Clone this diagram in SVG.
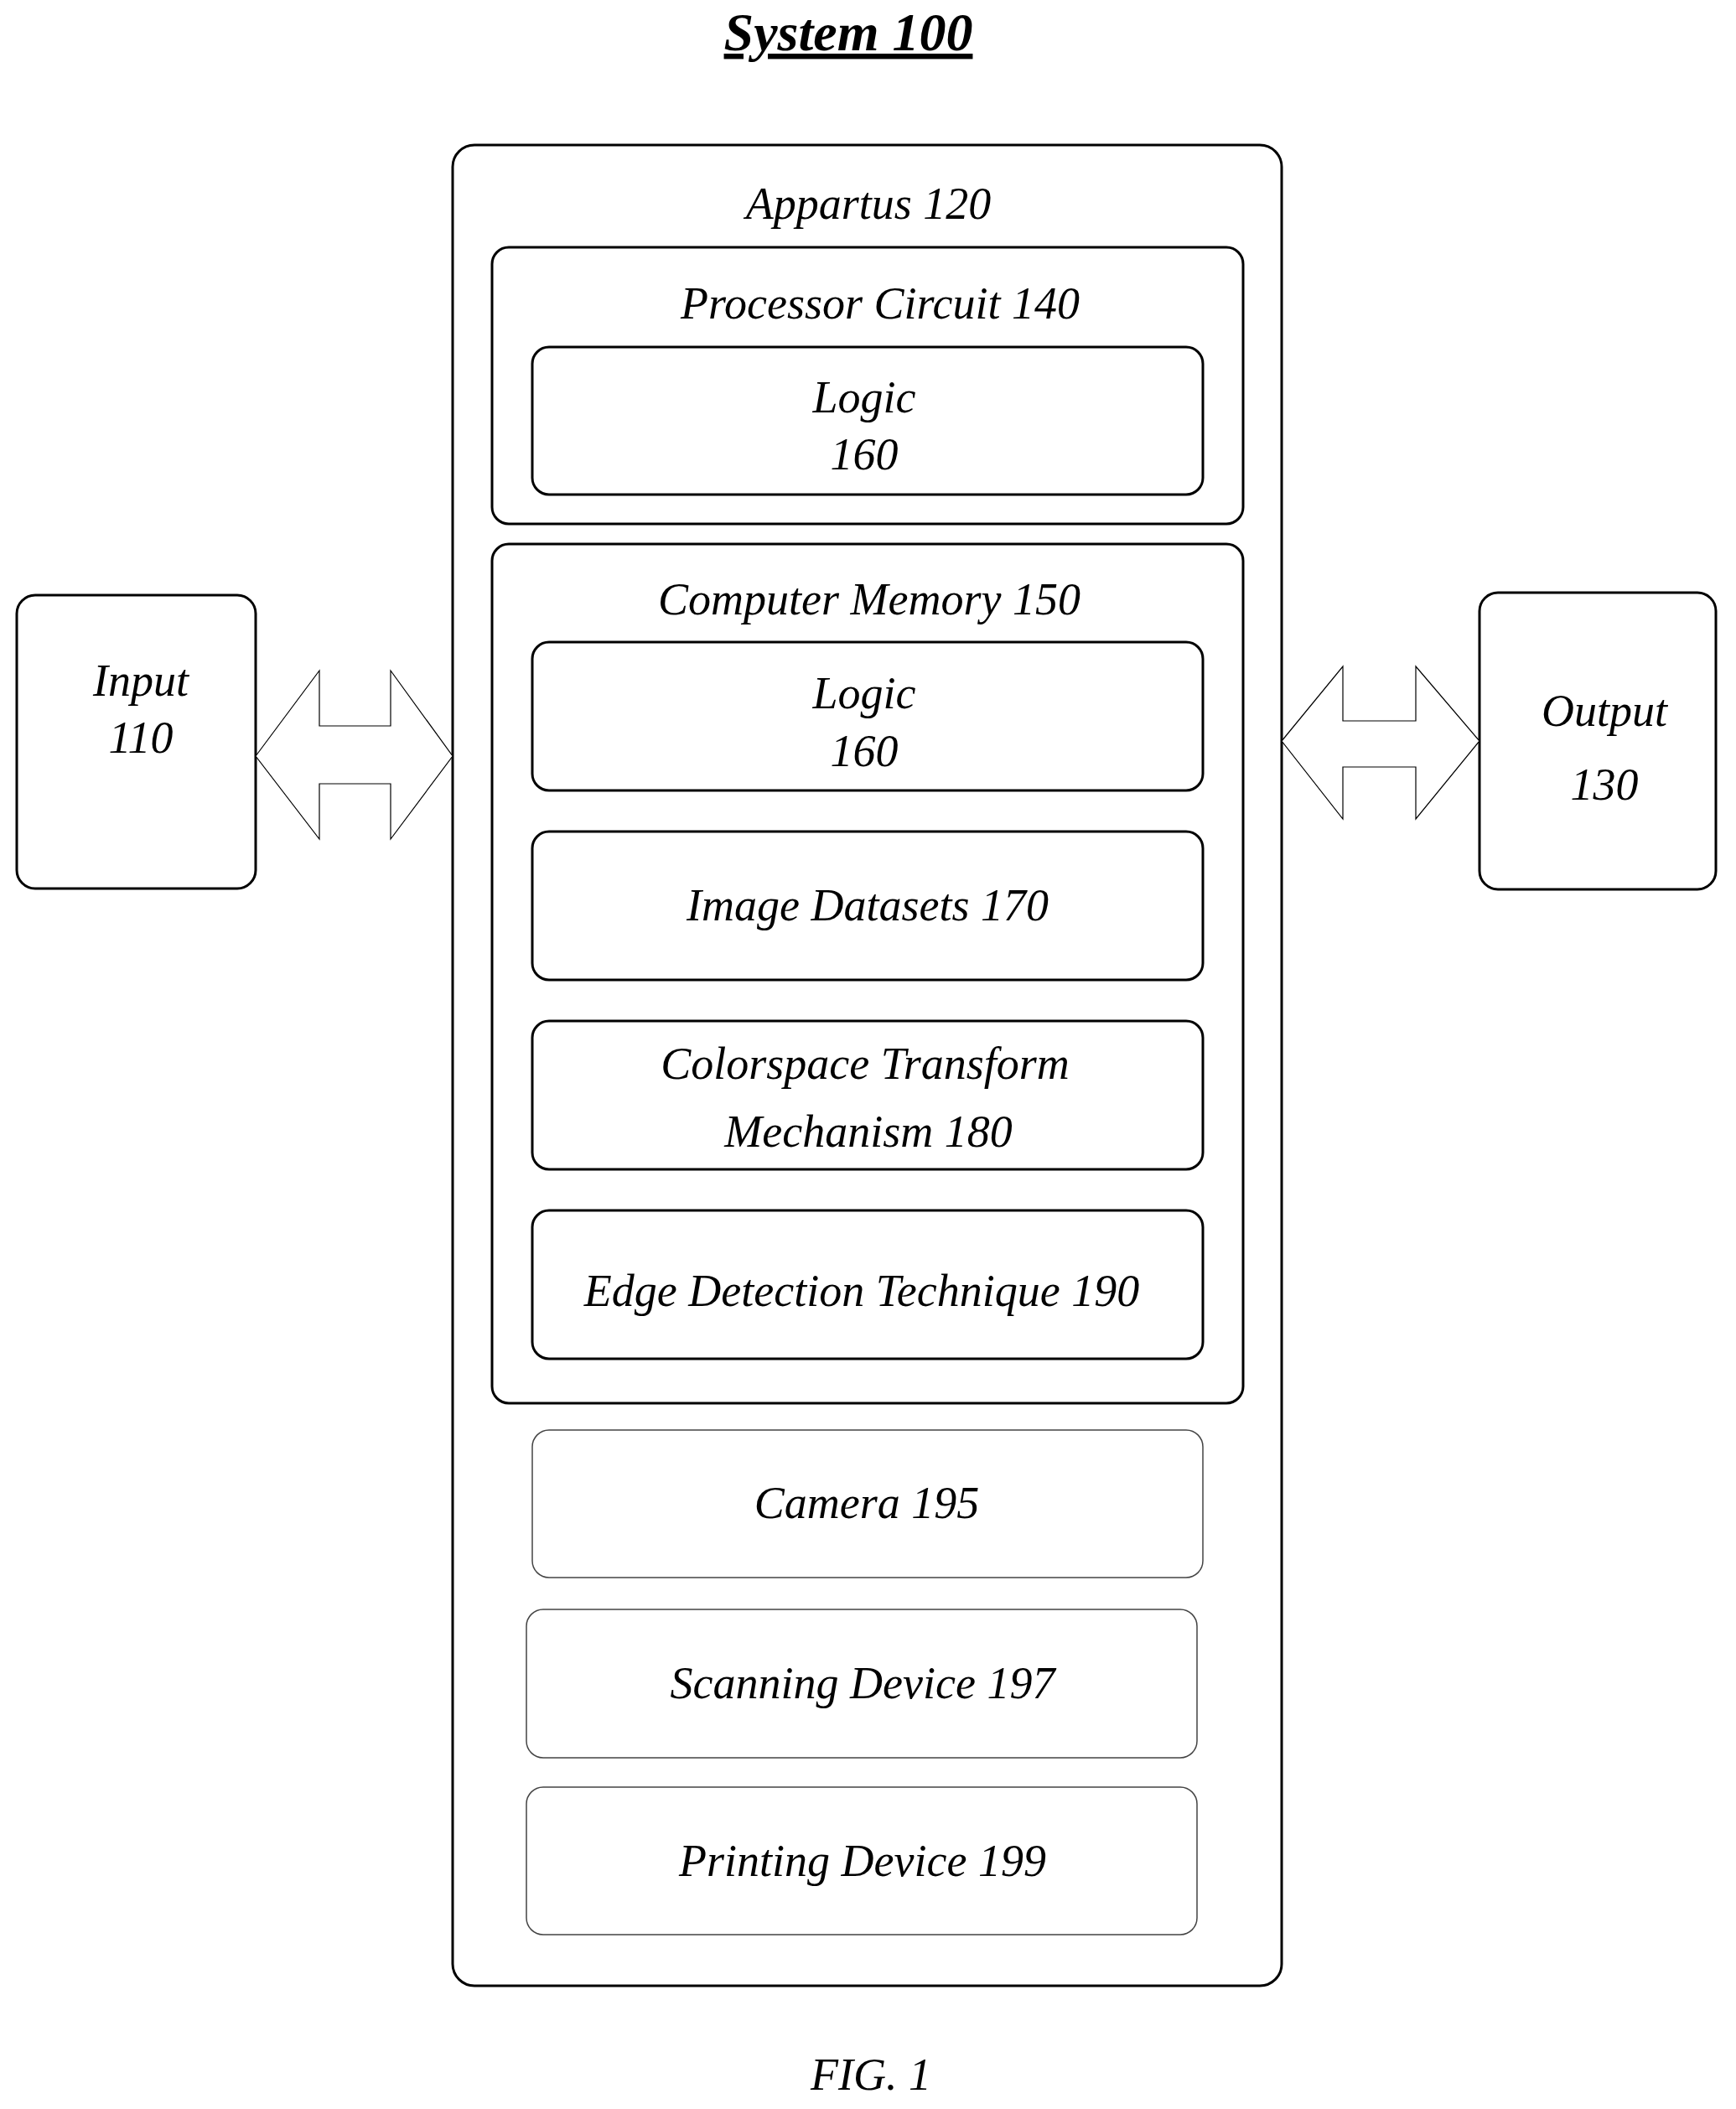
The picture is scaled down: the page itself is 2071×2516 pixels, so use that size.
<svg xmlns="http://www.w3.org/2000/svg" width="2071" height="2516" viewBox="0 0 2071 2516">
<style>
text{font-family:"Liberation Serif",serif;font-style:italic;font-size:54px;text-anchor:middle;fill:#000}
.b{fill:#fff;stroke:#000;stroke-width:3}
.t{fill:#fff;stroke:#444;stroke-width:1.5}
.a{fill:#fff;stroke:#000;stroke-width:1.2}
</style>
<rect width="2071" height="2516" fill="#fff"/>
<text x="1012" y="60" style="font-size:64px;font-weight:bold;text-decoration:underline">System 100</text>
<g id="input"><rect class="b" x="20" y="710" width="285" height="350" rx="22"/><text x="168" y="830">Input</text><text x="168" y="898">110</text></g>
<g id="output"><rect class="b" x="1765" y="707" width="282" height="354" rx="22"/><text x="1914" y="866">Output</text><text x="1914" y="954">130</text></g>
<g id="apparatus"><rect class="b" x="540" y="173" width="989" height="2196" rx="26"/><text x="1036" y="261">Appartus 120</text></g>
<g id="processor"><rect class="b" x="587" y="295" width="896" height="330" rx="20"/><text x="1050" y="380">Processor Circuit 140</text></g>
<g id="logic1"><rect class="b" x="635" y="414" width="800" height="176" rx="20"/><text x="1031" y="492">Logic</text><text x="1031" y="560">160</text></g>
<g id="memory"><rect class="b" x="587" y="649" width="896" height="1025" rx="20"/><text x="1037" y="733">Computer Memory 150</text></g>
<g id="logic2"><rect class="b" x="635" y="766" width="800" height="177" rx="20"/><text x="1031" y="845">Logic</text><text x="1031" y="914">160</text></g>
<g id="image"><rect class="b" x="635" y="992" width="800" height="177" rx="20"/><text x="1035" y="1098">Image Datasets 170</text></g>
<g id="colorspace"><rect class="b" x="635" y="1218" width="800" height="177" rx="20"/><text x="1032" y="1287">Colorspace Transform</text><text x="1036" y="1368">Mechanism 180</text></g>
<g id="edge"><rect class="b" x="635" y="1444" width="800" height="177" rx="20"/><text x="1028" y="1558">Edge Detection Technique 190</text></g>
<g id="camera"><rect class="t" x="635" y="1706" width="800" height="176" rx="20"/><text x="1034" y="1811">Camera 195</text></g>
<g id="scanning"><rect class="t" x="628" y="1920" width="800" height="177" rx="20"/><text x="1029" y="2026">Scanning Device 197</text></g>
<g id="printing"><rect class="t" x="628" y="2132" width="800" height="176" rx="20"/><text x="1029" y="2238">Printing Device 199</text></g>
<g id="connectors">
<polygon class="a" points="305,902 381,800 381,866 466,866 466,800 540,902 466,1001 466,935 381,935 381,1001"/>
<polygon class="a" points="1529,884 1602,795 1602,860 1689,860 1689,795 1765,884 1689,977 1689,915 1602,915 1602,977"/>
</g>
<text x="1039" y="2493">FIG. 1</text>
</svg>
